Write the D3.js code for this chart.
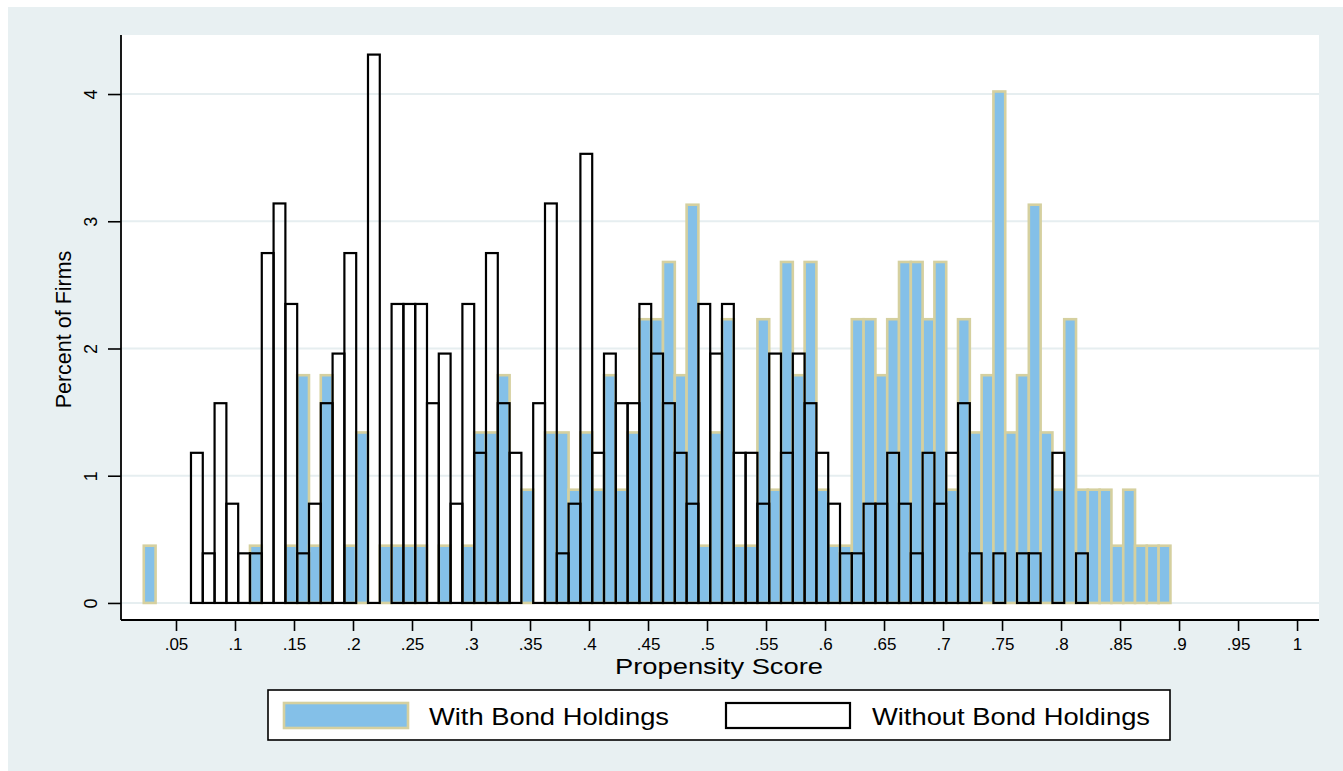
<!DOCTYPE html>
<html>
<head>
<meta charset="utf-8">
<script src="https://cdn.jsdelivr.net/npm/d3@7"></script>
<style>
  html, body { margin: 0; padding: 0; background: #ffffff; }
  svg { display: block; }
  text { font-family: "Liberation Sans", Arial, Helvetica, sans-serif; fill: #000; }
</style>
</head>
<body>
<svg id="chart" width="1343" height="771"></svg>
<script>
// Histogram bins of the propensity score (lower edge of first bin, bin width)
const binStart = 0.0227;
const binWidth = 0.01;

// Percent of firms per bin, firms with bond holdings
const withBond = [
  0.45, 0, 0, 0, 0, 0, 0, 0, 0, 0.45,
  0, 0, 0.45, 1.79, 0.45, 1.79, 0, 0.45, 1.34, 0,
  0.45, 0.45, 0.45, 0.45, 0, 0.45, 0, 0.45, 1.34, 1.34,
  1.79, 0, 0.89, 0, 1.34, 1.34, 0.89, 1.34, 0.89, 1.79,
  0.89, 1.34, 2.23, 2.23, 2.68, 1.79, 3.13, 0.45, 1.34, 2.23,
  0.45, 0.45, 2.23, 0.89, 2.68, 1.79, 2.68, 0.89, 0.45, 0.45,
  2.23, 2.23, 1.79, 2.23, 2.68, 2.68, 2.23, 2.68, 0.89, 2.23,
  1.34, 1.79, 4.02, 1.34, 1.79, 3.13, 1.34, 0.89, 2.23, 0.89,
  0.89, 0.89, 0.45, 0.89, 0.45, 0.45, 0.45
];

// Percent of firms per bin, firms without bond holdings
const withoutBond = [
  0, 0, 0, 0, 1.18, 0.39, 1.57, 0.78, 0.39, 0.39,
  2.75, 3.14, 2.35, 0.39, 0.78, 1.57, 1.96, 2.75, 0, 4.31,
  0, 2.35, 2.35, 2.35, 1.57, 1.96, 0.78, 2.35, 1.18, 2.75,
  1.57, 1.18, 0, 1.57, 3.14, 0.39, 0.78, 3.53, 1.18, 1.96,
  1.57, 1.57, 2.35, 1.96, 1.57, 1.18, 0.78, 2.35, 1.96, 2.35,
  1.18, 1.18, 0.78, 1.96, 1.18, 1.96, 1.57, 1.18, 0.78, 0.39,
  0.39, 0.78, 0.78, 1.18, 0.78, 0.39, 1.18, 0.78, 1.18, 1.57,
  0.39, 0, 0.39, 0, 0.39, 0.39, 0, 1.18, 0, 0.39
];

// Axis ticks and labels
const xTickValues = [0.05, 0.1, 0.15, 0.2, 0.25, 0.3, 0.35, 0.4, 0.45, 0.5,
                     0.55, 0.6, 0.65, 0.7, 0.75, 0.8, 0.85, 0.9, 0.95, 1];
const xTickLabels = [".05", ".1", ".15", ".2", ".25", ".3", ".35", ".4", ".45", ".5",
                     ".55", ".6", ".65", ".7", ".75", ".8", ".85", ".9", ".95", "1"];
const yTickValues = [0, 1, 2, 3, 4];
const yTickLabels = ["0", "1", "2", "3", "4"];

const seriesNames = ["With Bond Holdings", "Without Bond Holdings"];

// ---- layout & style ----
const W = 1343, H = 771;
const plot = { left: 121, right: 1319, top: 35, bottom: 620 };
const BG = "#e8f0f2";
const GRID = "#e6eef0";
const BLUE = "#84c0e8";
const TAN = "#d5d09f";

const svg = d3.select("#chart");

// page & graph region
svg.append("rect").attr("width", W).attr("height", H).attr("fill", "#ffffff");
svg.append("rect").attr("x", 8).attr("y", 7).attr("width", W - 8).attr("height", H - 7).attr("fill", BG);
svg.append("rect")
  .attr("x", plot.left).attr("y", plot.top)
  .attr("width", plot.right - plot.left).attr("height", plot.bottom - plot.top)
  .attr("fill", "#ffffff");

const x = d3.scaleLinear().domain([0.0034, 1.0186]).range([plot.left, plot.right]);
const y = d3.scaleLinear().domain([-0.134, 4.464]).range([plot.bottom, plot.top]);

// horizontal grid lines
svg.append("g").selectAll("line").data(yTickValues).join("line")
  .attr("x1", plot.left).attr("x2", plot.right)
  .attr("y1", d => y(d)).attr("y2", d => y(d))
  .attr("stroke", GRID).attr("stroke-width", 2);

const binLo = i => binStart + i * binWidth;
const binHi = i => binStart + (i + 1) * binWidth;

// filled bars: with bond holdings
svg.append("g").selectAll("rect")
  .data(withBond.map((v, i) => ({ v, i })).filter(d => d.v > 0))
  .join("rect")
  .attr("x", d => x(binLo(d.i)))
  .attr("width", d => x(binHi(d.i)) - x(binLo(d.i)))
  .attr("y", d => y(d.v))
  .attr("height", d => y(0) - y(d.v))
  .attr("fill", BLUE)
  .attr("stroke", TAN)
  .attr("stroke-width", 2.6);

// outlined bars: without bond holdings
svg.append("g").selectAll("rect")
  .data(withoutBond.map((v, i) => ({ v, i })).filter(d => d.v > 0))
  .join("rect")
  .attr("x", d => x(binLo(d.i)))
  .attr("width", d => x(binHi(d.i)) - x(binLo(d.i)))
  .attr("y", d => y(d.v))
  .attr("height", d => y(0) - y(d.v))
  .attr("fill", "none")
  .attr("stroke", "#000")
  .attr("stroke-width", 2.2);

// x axis
const xAxis = d3.axisBottom(x)
  .tickValues(xTickValues)
  .tickFormat((d, i) => xTickLabels[i])
  .tickSize(11)
  .tickPadding(6)
  .tickSizeOuter(0);
const gx = svg.append("g").attr("transform", `translate(0,${plot.bottom})`).call(xAxis);
gx.select(".domain").attr("d", `M${plot.left},0H${plot.right}`).attr("stroke", "#000").attr("stroke-width", 1.8);
gx.selectAll(".tick line").attr("stroke", "#000").attr("stroke-width", 1.6);
gx.selectAll(".tick text")
  .attr("font-size", 17).attr("font-family", "Liberation Sans, Arial, sans-serif")
  .attr("fill", "#000").attr("dy", null).attr("y", 30);

// y axis (labels rotated, as drawn by the stats package)
const yAxis = d3.axisLeft(y)
  .tickValues(yTickValues)
  .tickFormat((d, i) => yTickLabels[i])
  .tickSize(13)
  .tickSizeOuter(0);
const gy = svg.append("g").attr("transform", `translate(${plot.left},0)`).call(yAxis);
gy.select(".domain").attr("d", `M0,${plot.top}V${plot.bottom}`).attr("stroke", "#000").attr("stroke-width", 1.8);
gy.selectAll(".tick line").attr("stroke", "#000").attr("stroke-width", 1.6);
gy.selectAll(".tick text")
  .attr("font-size", 18).attr("font-family", "Liberation Sans, Arial, sans-serif")
  .attr("fill", "#000")
  .attr("x", null).attr("dy", null)
  .attr("text-anchor", "middle")
  .attr("transform", "translate(-24,0) rotate(-90)");

// axis titles
svg.append("text")
  .attr("x", 719).attr("y", 674)
  .attr("text-anchor", "middle")
  .attr("font-size", 22)
  .attr("textLength", 208).attr("lengthAdjust", "spacingAndGlyphs")
  .text("Propensity Score");

svg.append("text")
  .attr("transform", `translate(71,${(plot.top + plot.bottom) / 2 + 2}) rotate(-90)`)
  .attr("text-anchor", "middle")
  .attr("font-size", 21.5)
  .text("Percent of Firms");

// legend
const lg = svg.append("g");
lg.append("rect").attr("x", 268).attr("y", 690).attr("width", 902).attr("height", 50)
  .attr("fill", "#ffffff").attr("stroke", "#000").attr("stroke-width", 1.6);
lg.append("rect").attr("x", 284).attr("y", 703).attr("width", 124).attr("height", 25)
  .attr("fill", BLUE).attr("stroke", TAN).attr("stroke-width", 2.6);
lg.append("text").attr("x", 429).attr("y", 725).attr("font-size", 24)
  .attr("textLength", 240).attr("lengthAdjust", "spacingAndGlyphs")
  .text(seriesNames[0]);
lg.append("rect").attr("x", 726).attr("y", 703).attr("width", 124).attr("height", 25)
  .attr("fill", "#ffffff").attr("stroke", "#000").attr("stroke-width", 2.2);
lg.append("text").attr("x", 872).attr("y", 725).attr("font-size", 24)
  .attr("textLength", 278).attr("lengthAdjust", "spacingAndGlyphs")
  .text(seriesNames[1]);
</script>
</body>
</html>
